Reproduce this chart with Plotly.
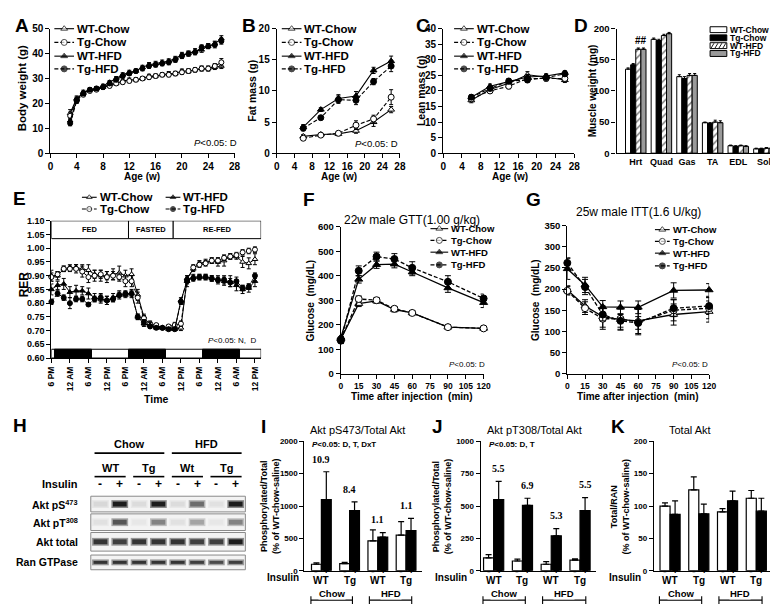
import plotly.graph_objects as go

W, H = 778, 604
SANS = "Liberation Sans, Arial, sans-serif"
SERIF = "Liberation Serif, Times New Roman, serif"

GROUPS = ["WT-Chow", "Tg-Chow", "WT-HFD", "Tg-HFD"]

# ---------------- A: body weight ----------------
bw_weeks = [3, 4, 5, 6, 7, 8, 9, 10, 11, 12, 13, 14, 15, 16, 17, 18, 19, 20, 21, 22, 23, 24, 25, 26]
bw_wt_chow = [16, 22, 24, 25.5, 26, 26.5, 27.5, 28, 29, 29.5, 29.5, 30, 31, 31, 31.5, 32, 32, 33, 33, 33.5, 34, 34, 34.5, 35]
bw_tg_chow = [15, 21.5, 23.5, 25, 25.5, 26.5, 27, 28, 28.5, 29, 29.5, 30, 30.5, 31, 31.5, 31.5, 32, 32.5, 33, 33.5, 34, 34, 35, 36.5]
bw_wt_hfd = [13, 21.5, 24.5, 25.5, 26, 27, 28.5, 30, 31.5, 32.5, 33, 34.5, 35.5, 36, 36.5, 37, 38, 39.5, 40, 41, 41.5, 43, 44, 46]
bw_tg_hfd = [12, 21, 24, 25.5, 26, 26.5, 28, 29.5, 31, 32, 33, 34, 35, 35.5, 36, 36.5, 37.5, 39, 40, 40.5, 42.5, 43, 43.5, 45]
bw_err_wt_chow = [1.5, 1.0, 0.8, 0.7, 0.7, 0.7, 0.7, 0.7, 0.7, 0.7, 0.7, 0.7, 0.7, 0.7, 0.7, 0.8, 0.8, 0.8, 0.8, 0.8, 0.9, 0.9, 0.9, 1.0]
bw_err_tg_chow = [1.5, 1.0, 0.8, 0.7, 0.7, 0.7, 0.7, 0.7, 0.7, 0.7, 0.8, 0.8, 0.8, 0.8, 0.8, 0.8, 0.9, 0.9, 0.9, 0.9, 1.0, 1.0, 1.0, 1.5]
bw_err_wt_hfd = [1.0, 1.0, 0.8, 0.7, 0.7, 0.7, 0.7, 0.8, 0.8, 0.8, 0.8, 0.8, 0.9, 0.9, 0.9, 0.9, 0.9, 1.0, 1.0, 1.0, 1.0, 1.0, 1.0, 1.2]
bw_err_tg_hfd = [1.0, 1.0, 0.8, 0.7, 0.7, 0.7, 0.7, 0.8, 0.8, 0.8, 0.8, 0.9, 0.9, 0.9, 0.9, 1.0, 1.0, 1.0, 1.0, 1.0, 1.0, 1.0, 1.2, 1.2]

# ---------------- B / C: fat and lean mass ----------------
nmr_weeks = [6, 10, 14, 18, 22, 26]
fm_wt_chow = [2.7, 3.0, 3.1, 3.6, 5.0, 7.0]
fm_tg_chow = [2.4, 2.9, 3.2, 4.5, 5.5, 9.0]
fm_wt_hfd = [4.2, 7.0, 8.8, 9.2, 13.3, 14.8]
fm_tg_hfd = [4.0, 5.7, 8.6, 8.5, 11.5, 14.0]
fm_err_wt_chow = [0.3, 0.2, 0.3, 0.4, 0.7, 0.5]
fm_err_tg_chow = [0.3, 0.2, 0.3, 0.7, 0.6, 1.2]
fm_err_wt_hfd = [0.4, 0.3, 0.6, 0.7, 0.5, 0.8]
fm_err_tg_hfd = [0.4, 0.3, 0.6, 0.7, 0.5, 0.9]

lm_wt_chow = [17.0, 20.5, 22.5, 25.2, 24.5, 23.5]
lm_tg_chow = [17.5, 20.0, 21.5, 24.0, 24.0, 24.0]
lm_wt_hfd = [18.0, 21.5, 23.0, 24.5, 24.8, 25.8]
lm_tg_hfd = [18.0, 20.8, 23.2, 23.5, 24.3, 25.5]
lm_err_wt_chow = [0.8, 0.8, 0.8, 1.0, 0.8, 0.8]
lm_err_tg_chow = [0.7, 0.8, 0.8, 0.9, 0.8, 0.9]
lm_err_wt_hfd = [0.7, 0.7, 0.8, 0.8, 0.7, 0.7]
lm_err_tg_hfd = [0.7, 0.7, 0.8, 0.8, 0.7, 0.8]

# ---------------- D: muscle weight ----------------
muscles = ["Hrt", "Quad", "Gas", "TA", "EDL", "Sol"]
mw_wt_chow = [135, 183, 123, 49, 12, 7]
mw_tg_chow = [142, 181, 120, 48, 11, 7]
mw_wt_hfd = [167, 189, 125, 50, 12, 8]
mw_tg_hfd = [167, 192, 125, 49, 11, 8]
mw_err_wt_chow = [2, 2, 3, 1, 1, 1]
mw_err_tg_chow = [2, 2, 3, 1, 1, 1]
mw_err_wt_hfd = [2, 2, 3, 3, 1, 1]
mw_err_tg_hfd = [2, 2, 3, 3, 1, 1]

# ---------------- E: RER ----------------
rer_hours = [0, 2, 4, 6, 8, 10, 12, 14, 16, 18, 20, 22, 24, 26, 28, 30, 32,
             34, 36, 38, 40, 42, 44, 46, 48, 50, 52, 54, 56, 58, 60, 62, 64, 66]
rer_wt_chow = [0.900, 0.900, 0.925, 0.930, 0.930, 0.925, 0.920, 0.905, 0.900, 0.900, 0.905, 0.910, 0.900, 0.905, 0.830, 0.750, 0.720,
               0.715, 0.710, 0.710, 0.710, 0.710, 0.890, 0.925, 0.945, 0.950, 0.955, 0.950, 0.955, 0.970, 0.970, 0.950, 0.945, 0.960]
rer_tg_chow = [0.895, 0.905, 0.925, 0.925, 0.925, 0.915, 0.895, 0.900, 0.905, 0.895, 0.900, 0.895, 0.880, 0.880, 0.820, 0.745, 0.725,
               0.720, 0.710, 0.715, 0.720, 0.725, 0.880, 0.930, 0.940, 0.945, 0.955, 0.955, 0.965, 0.970, 0.975, 0.985, 0.990, 0.995]
rer_wt_hfd = [0.850, 0.865, 0.870, 0.840, 0.845, 0.845, 0.835, 0.820, 0.815, 0.810, 0.820, 0.830, 0.830, 0.835, 0.750, 0.725, 0.720,
              0.710, 0.710, 0.705, 0.705, 0.810, 0.880, 0.895, 0.895, 0.895, 0.890, 0.885, 0.880, 0.880, 0.865, 0.850, 0.855, 0.880]
rer_tg_hfd = [0.805, 0.835, 0.820, 0.800, 0.815, 0.815, 0.795, 0.815, 0.820, 0.810, 0.815, 0.830, 0.835, 0.835, 0.750, 0.730, 0.715,
              0.710, 0.710, 0.705, 0.705, 0.805, 0.885, 0.890, 0.895, 0.895, 0.890, 0.885, 0.885, 0.875, 0.880, 0.855, 0.860, 0.900]
rer_err_wt_chow = [0.02, 0.015, 0.01, 0.01, 0.01, 0.015, 0.02, 0.015, 0.02, 0.015, 0.02, 0.025, 0.02, 0.02, 0.02, 0.01, 0.01,
                   0.01, 0.005, 0.005, 0.005, 0.01, 0.01, 0.01, 0.01, 0.01, 0.01, 0.015, 0.02, 0.01, 0.01, 0.02, 0.02, 0.02]
rer_err_tg_chow = [0.015, 0.01, 0.01, 0.01, 0.015, 0.02, 0.02, 0.02, 0.015, 0.02, 0.015, 0.015, 0.02, 0.02, 0.02, 0.01, 0.01,
                   0.005, 0.005, 0.005, 0.01, 0.01, 0.02, 0.01, 0.01, 0.01, 0.01, 0.01, 0.01, 0.01, 0.01, 0.01, 0.01, 0.01]
rer_err_wt_hfd = [0.02, 0.015, 0.02, 0.02, 0.02, 0.015, 0.02, 0.015, 0.015, 0.015, 0.015, 0.015, 0.01, 0.015, 0.01, 0.01, 0.01,
                  0.005, 0.005, 0.005, 0.005, 0.01, 0.01, 0.01, 0.01, 0.01, 0.01, 0.015, 0.015, 0.02, 0.02, 0.015, 0.015, 0.02]
rer_err_tg_hfd = [0.01, 0.01, 0.01, 0.02, 0.01, 0.01, 0.005, 0.01, 0.015, 0.015, 0.01, 0.01, 0.01, 0.01, 0.01, 0.01, 0.005,
                  0.005, 0.005, 0.005, 0.005, 0.01, 0.01, 0.01, 0.01, 0.01, 0.01, 0.01, 0.015, 0.015, 0.015, 0.01, 0.01, 0.01]
rer_tick_hours = [0, 6, 12, 18, 24, 30, 36, 42, 48, 54, 60, 66]
rer_tick_labels = ["6 PM", "12 AM", "6 AM", "12 PM", "6 PM", "12 AM", "6 AM", "12 PM", "6 PM", "12 AM", "6 AM", "12 PM"]
lights_off = [(1, 13), (25, 37), (49, 61)]
feeding_phases = [("FED", 0, 25), ("FASTED", 25, 39.5), ("RE-FED", 39.5, 68)]

# ---------------- F: GTT, G: ITT ----------------
tt_minutes = [0, 15, 30, 45, 60, 90, 120]
gtt_wt_chow = [142, 286, 297, 262, 248, 190, 185]
gtt_tg_chow = [140, 305, 300, 265, 248, 190, 185]
gtt_wt_hfd = [148, 385, 445, 447, 415, 350, 290]
gtt_tg_hfd = [135, 420, 478, 468, 432, 375, 307]
gtt_err_wt_chow = [10, 12, 10, 10, 8, 8, 8]
gtt_err_tg_chow = [10, 12, 10, 8, 8, 8, 8]
gtt_err_wt_hfd = [12, 15, 15, 15, 15, 18, 20]
gtt_err_tg_hfd = [12, 20, 18, 22, 25, 25, 18]

itt_wt_chow = [198, 160, 135, 128, 125, 140, 147]
itt_tg_chow = [196, 155, 130, 130, 122, 150, 155]
itt_wt_hfd = [248, 210, 158, 157, 157, 197, 198]
itt_tg_hfd = [262, 205, 140, 125, 120, 155, 160]
itt_err_wt_chow = [10, 15, 25, 25, 30, 25, 25]
itt_err_tg_chow = [10, 15, 25, 25, 30, 25, 25]
itt_err_wt_hfd = [25, 18, 15, 15, 15, 18, 15]
itt_err_tg_hfd = [12, 18, 15, 15, 15, 20, 20]

# ---------------- H: western blot band intensities (0-1) ----------------
blot_lanes_insulin = ["-", "+", "-", "+", "-", "+", "-", "+"]
blot_genotypes = ["WT", "Tg", "Wt", "Tg"]
blot_diets = ["Chow", "HFD"]
blot_pS473 = [0.12, 0.95, 0.10, 0.95, 0.10, 0.60, 0.08, 0.95]
blot_pT308 = [0.08, 0.70, 0.05, 0.50, 0.08, 0.35, 0.05, 0.50]
blot_total = [0.85, 0.80, 0.85, 0.85, 0.85, 0.80, 0.80, 0.95]
blot_ran = [0.85, 0.85, 0.85, 0.85, 0.85, 0.80, 0.75, 0.80]

# ---------------- I / J / K: quantification ----------------
quant_genotypes = ["WT", "Tg", "WT", "Tg"]
pS_saline = [100, 110, 460, 550]
pS_saline_err = [20, 20, 170, 210]
pS_insulin = [1100, 930, 520, 620]
pS_insulin_err = [430, 135, 70, 190]
pS_fold = ["10.9", "8.4", "1.1", "1.1"]
pT_saline = [100, 75, 50, 82]
pT_saline_err = [25, 15, 20, 10]
pT_insulin = [550, 505, 270, 465]
pT_insulin_err = [140, 55, 55, 100]
pT_fold = ["5.5", "6.9", "5.3", "5.5"]
tot_saline = [100, 125, 91, 112]
tot_saline_err = [5, 20, 5, 12]
tot_insulin = [87, 88, 108, 92]
tot_insulin_err = [21, 15, 15, 20]

# ======================================================================
fig = go.Figure()
ann, shp = [], []
L = dict(width=W, height=H, margin=dict(l=0, r=0, t=0, b=0), paper_bgcolor="white",
         plot_bgcolor="rgba(0,0,0,0)", showlegend=False, barmode="overlay",
         font=dict(family=SANS, color="black"))

STY = {
    "WT-Chow": dict(symbol="triangle-up", fill="white", dash="solid"),
    "Tg-Chow": dict(symbol="circle", fill="white", dash="4px,2px"),
    "WT-HFD": dict(symbol="triangle-up", fill="black", dash="solid"),
    "Tg-HFD": dict(symbol="circle", fill="black", dash="4px,2px"),
}


def T(x, y, s, size=10, bold=True, xa="center", ya="middle", angle=0, family=SANS, **kw):
    ann.append(dict(x=x / W, y=1 - y / H, xref="paper", yref="paper", text=s, showarrow=False,
                    xanchor=xa, yanchor=ya, textangle=angle,
                    font=dict(family=family, size=size, color="black", weight=700 if bold else 400), **kw))


def R(x0, y0, x1, y1, fill, line="black", lw=1):
    shp.append(dict(type="rect", xref="paper", yref="paper", x0=x0 / W, x1=x1 / W, y0=1 - y1 / H,
                    y1=1 - y0 / H, fillcolor=fill, line=dict(color=line, width=lw), layer="above"))


def LN(x0, y0, x1, y1, lw=1.2):
    shp.append(dict(type="line", xref="paper", yref="paper", x0=x0 / W, x1=x1 / W, y0=1 - y0 / H,
                    y1=1 - y1 / H, line=dict(color="black", width=lw), layer="above"))


def axes(n, xpx, ypx, xr, yr, xt=None, xtt=None, yt=None, ytt=None, xfs=10, yfs=10,
         xw=700, yw=700, xticks=True, xlabels=True, xangle=0):
    s = "" if n == 1 else str(n)
    base = dict(showline=True, linecolor="black", linewidth=1.3, ticks="outside", ticklen=4,
                tickwidth=1.2, tickcolor="black", showgrid=False, zeroline=False, fixedrange=True)
    xa = dict(base, domain=[xpx[0] / W, xpx[1] / W], anchor="y" + s, range=xr, tickangle=xangle,
              tickfont=dict(family=SANS, size=xfs, color="black", weight=xw))
    if xt is not None:
        xa.update(tickmode="array", tickvals=xt, ticktext=xtt if xtt else [str(v) for v in xt])
    if not xticks:
        xa["ticks"] = ""
    if not xlabels:
        xa["showticklabels"] = False
    ya = dict(base, domain=[1 - ypx[1] / H, 1 - ypx[0] / H], anchor="x" + s, range=yr,
              tickfont=dict(family=SANS, size=yfs, color="black", weight=yw))
    if yt is not None:
        ya.update(tickmode="array", tickvals=yt, ticktext=ytt if ytt else [str(v) for v in yt])
    L["xaxis" + s] = xa
    L["yaxis" + s] = ya
    return ("x" + s, "y" + s)


def series(x, y, err, name, xa, ya, ms=5, lw=1.1, cap=2):
    st = STY[name]
    fig.add_trace(go.Scatter(
        x=x, y=y, mode="lines+markers", xaxis=xa, yaxis=ya, name=name, cliponaxis=False,
        line=dict(color="black", width=lw, dash=st["dash"]),
        marker=dict(symbol=st["symbol"], size=ms, color=st["fill"], line=dict(color="black", width=1)),
        error_y=dict(type="data", array=err, visible=True, color="black", thickness=1, width=cap)))


def legend_rows(items, xs0, xs1, xt, fs, ms):
    for name, y in items:
        st = STY[name]
        fig.add_trace(go.Scatter(
            x=[xs0, (xs0 + xs1) / 2, xs1], y=[y, y, y], mode="lines+markers", xaxis="x11", yaxis="y11",
            cliponaxis=False, hoverinfo="skip",
            line=dict(color="black", width=1.1, dash=st["dash"]),
            marker=dict(symbol=st["symbol"], size=[0, ms, 0], color=st["fill"],
                        line=dict(color="black", width=[0, 1, 0]))))
        T(xt, y, name, size=fs, xa="left")


def ptext(x, y, s, size=9):
    T(x, y, "<i>P</i>&lt;0.05: " + s, size=size, bold=False, xa="right")


# overlay pixel axes (for legend keys)
L["xaxis11"] = dict(domain=[0, 1], range=[0, W], visible=False, fixedrange=True, anchor="y11")
L["yaxis11"] = dict(domain=[0, 1], range=[H, 0], visible=False, fixedrange=True, anchor="x11")

# ---------------- Panel A ----------------
xa, ya = axes(1, (38, 225), (15, 142), [0, 28], [0, 50], xt=[0, 4, 8, 12, 16, 20, 24, 28],
              yt=[0, 10, 20, 30, 40, 50])
for nm, yv, ev in zip(GROUPS, [bw_wt_chow, bw_tg_chow, bw_wt_hfd, bw_tg_hfd],
                      [bw_err_wt_chow, bw_err_tg_chow, bw_err_wt_hfd, bw_err_tg_hfd]):
    series(bw_weeks, yv, ev, nm, xa, ya, ms=5)
T(9, 12, "A", size=19)
T(10, 76, "Body weight (g)", size=11.5, angle=-90)
T(131, 166, "Age (w)", size=10)
ptext(230, 131, "D", size=9.5)
legend_rows(list(zip(GROUPS, [15, 29, 43, 56])), 42, 62, 63, 11.5, 6)

# ---------------- Panel B ----------------
xa, ya = axes(2, (268, 393), (15, 142), [0, 28], [0, 20], xt=[0, 4, 8, 12, 16, 20, 24, 28],
              yt=[0, 5, 10, 15, 20])
for nm, yv, ev in zip(GROUPS, [fm_wt_chow, fm_tg_chow, fm_wt_hfd, fm_tg_hfd],
                      [fm_err_wt_chow, fm_err_tg_chow, fm_err_wt_hfd, fm_err_tg_hfd]):
    series(nmr_weeks, yv, ev, nm, xa, ya, ms=6)
T(240, 12, "B", size=19)
T(243, 78, "Fat mass (g)", size=10.5, angle=-90)
T(331, 166, "Age (w)", size=10)
ptext(393, 132, "D", size=9.5)
legend_rows(list(zip(GROUPS, [15, 29, 43, 56])), 273, 293, 294, 11.5, 6)

# ---------------- Panel C ----------------
xa, ya = axes(3, (437, 570), (15, 142), [0, 28], [0, 40], xt=[0, 4, 8, 12, 16, 20, 24, 28],
              yt=[0, 5, 10, 15, 20, 25, 30, 35, 40])
for nm, yv, ev in zip(GROUPS, [lm_wt_chow, lm_tg_chow, lm_wt_hfd, lm_tg_hfd],
                      [lm_err_wt_chow, lm_err_tg_chow, lm_err_wt_hfd, lm_err_tg_hfd]):
    series(nmr_weeks, yv, ev, nm, xa, ya, ms=6)
T(416, 12, "C", size=19)
T(415, 78, "Lean mass (g)", size=10.5, angle=-90)
T(505, 166, "Age (w)", size=10)
legend_rows(list(zip(GROUPS, [15, 29, 43, 56])), 448, 468, 469, 11.5, 6)

# ---------------- Panel D ----------------
xa, ya = axes(4, (613, 777), (15, 142), [-0.75, 5.55], [0, 200], xt=[0, 1, 2, 3, 4, 5], xtt=muscles,
              yt=[0, 50, 100, 150, 200], xticks=False, xfs=9, yfs=9.5)
bar_styles = [
    dict(color="white", line=dict(color="black", width=1)),
    dict(color="black", line=dict(color="black", width=1)),
    dict(color="white", line=dict(color="black", width=1),
         pattern=dict(shape="/", fgcolor="black", bgcolor="white", size=5, solidity=0.3)),
    dict(color="#9a9a9a", line=dict(color="black", width=1)),
]
for i, (nm, yv, ev) in enumerate(zip(GROUPS, [mw_wt_chow, mw_tg_chow, mw_wt_hfd, mw_tg_hfd],
                                     [mw_err_wt_chow, mw_err_tg_chow, mw_err_wt_hfd, mw_err_tg_hfd])):
    fig.add_trace(go.Bar(x=list(range(len(muscles))), y=yv, width=0.2, offset=-0.4 + 0.2 * i,
                         marker=bar_styles[i], xaxis=xa, yaxis=ya, name=nm,
                         error_y=dict(type="data", array=ev, arrayminus=[0] * len(ev), symmetric=False,
                                      color="black", thickness=1, width=1.5)))
ann.append(dict(x=0.2, y=max(mw_wt_hfd[0], mw_tg_hfd[0]) + 2, xref=xa, yref=ya, text="##", showarrow=False,
                yanchor="bottom", font=dict(family=SANS, size=10, color="black", weight=700)))
T(577, 12, "D", size=19)
T(589, 78, "Muscle weight (mg)", size=10, angle=-90)
for i, (nm, y) in enumerate(zip(GROUPS, [16, 24.3, 32.3, 40.3])):
    st = bar_styles[i]
    shp.append(dict(type="rect", xref="paper", yref="paper", x0=708 / W, x1=725 / W, y0=1 - (y + 3) / H,
                    y1=1 - (y - 3) / H, fillcolor=st["color"], line=dict(color="black", width=1),
                    layer="above"))
    if i == 2:
        for k in range(4):
            LN(709 + 4 * k, y + 2.5, 712 + 4 * k, y - 2.5, lw=0.9)
    T(726, y, nm, size=8.5, xa="left")

# ---------------- Panel E ----------------
xa, ya = axes(5, (39, 252), (211, 351), [0, 68], [0.60, 1.10], xt=rer_tick_hours, xtt=rer_tick_labels,
              yt=[0.60, 0.65, 0.70, 0.75, 0.80, 0.85, 0.90, 0.95, 1.00, 1.05, 1.10],
              ytt=["0.60", "0.65", "0.70", "0.75", "0.80", "0.85", "0.90", "0.95", "1.00", "1.05", "1.10"],
              xfs=8.5, yfs=9, xangle=-90)
for nm, yv, ev in zip(GROUPS, [rer_wt_chow, rer_tg_chow, rer_wt_hfd, rer_tg_hfd],
                      [rer_err_wt_chow, rer_err_tg_chow, rer_err_wt_hfd, rer_err_tg_hfd]):
    series(rer_hours, yv, ev, nm, xa, ya, ms=5, lw=1)
shp.append(dict(type="rect", xref=xa, yref=ya, x0=0, x1=68, y0=0.60, y1=0.632, fillcolor="white",
                line=dict(color="black", width=1), layer="above"))
for a, b in lights_off:
    shp.append(dict(type="rect", xref=xa, yref=ya, x0=a, x1=b, y0=0.60, y1=0.632, fillcolor="black",
                    line=dict(color="black", width=1), layer="above"))
for lab, a, b in feeding_phases:
    shp.append(dict(type="rect", xref=xa, yref=ya, x0=a, x1=b, y0=1.035, y1=1.10, fillcolor="white",
                    line=dict(color="black", width=1), layer="above"))
    ann.append(dict(x=(a + b) / 2, y=1.0675, xref=xa, yref=ya, text=lab, showarrow=False,
                    font=dict(family=SANS, size=7.5, color="black", weight=700)))
T(7, 188, "E", size=19)
T(11, 276, "RER", size=12, angle=-90)
T(145, 393, "Time", size=10.5)
ptext(249, 333, "N,  D", size=8)
legend_rows([("WT-Chow", 187), ("Tg-Chow", 199)], 70, 85, 86, 11.5, 5)
legend_rows([("WT-HFD", 187), ("Tg-HFD", 199)], 155, 170, 171, 11.5, 5)

# ---------------- Panel F ----------------
xa, ya = axes(6, (333, 478), (217, 367), [0, 120], [0, 600], xt=[0, 15, 30, 45, 60, 75, 90, 105, 120],
              yt=[0, 100, 200, 300, 400, 500, 600], xfs=8.5, yfs=9.5)
for nm, yv, ev in zip(GROUPS, [gtt_wt_chow, gtt_tg_chow, gtt_wt_hfd, gtt_tg_hfd],
                      [gtt_err_wt_chow, gtt_err_tg_chow, gtt_err_wt_hfd, gtt_err_tg_hfd]):
    series(tt_minutes, yv, ev, nm, xa, ya, ms=7, lw=1.3, cap=3)
T(301, 189, "F", size=19)
T(405, 210, "22w male GTT(1.00 g/kg)", size=12, bold=False)
T(302, 292, "Glucose  (mg/dL)", size=10, angle=-90)
T(405, 390, "Time after injection  (min)", size=10)
ptext(481, 358, "D", size=8)
legend_rows(list(zip(GROUPS, [219, 231, 243, 256])), 424, 442, 443, 9.5, 6)

# ---------------- Panel G ----------------
xa, ya = axes(7, (563, 707), (216, 367), [0, 120], [0, 350], xt=[0, 15, 30, 45, 60, 75, 90, 105, 120],
              yt=[0, 50, 100, 150, 200, 250, 300, 350], xfs=8.5, yfs=9.5)
for nm, yv, ev in zip(GROUPS, [itt_wt_chow, itt_tg_chow, itt_wt_hfd, itt_tg_hfd],
                      [itt_err_wt_chow, itt_err_tg_chow, itt_err_wt_hfd, itt_err_tg_hfd]):
    series(tt_minutes, yv, ev, nm, xa, ya, ms=7, lw=1.3, cap=3)
T(529, 189, "G", size=19)
T(635, 202, "25w male ITT(1.6 U/kg)", size=12, bold=False)
T(530, 292, "Glucose  (mg/dL)", size=10, angle=-90)
T(635, 390, "Time after injection  (min)", size=10)
ptext(708, 358, "D", size=8)
legend_rows(list(zip(GROUPS, [220, 232, 244, 257])), 652, 667, 668, 9.5, 6)

# ---------------- Panel H: blot ----------------
T(7, 420, "H", size=19)
lane_x0, lane_w = 79, (236 - 79) / 8
lane_c = [lane_x0 + lane_w * (i + 0.5) for i in range(8)]
for k, d in enumerate(blot_diets):
    T((lane_c[4 * k] + lane_c[4 * k + 3]) / 2, 439, d, size=11)
    LN(lane_c[4 * k] - 6, 448, lane_c[4 * k + 3] + 6, 448, lw=1.6)
for k, g in enumerate(blot_genotypes):
    T((lane_c[2 * k] + lane_c[2 * k + 1]) / 2, 463, g, size=11)
    LN(lane_c[2 * k] - 6, 472, lane_c[2 * k + 1] + 6, 472, lw=1.6)
T(68, 480, "Insulin", size=11, xa="right")
for i, s in enumerate(blot_lanes_insulin):
    T(lane_c[i], 480, s, size=12)
blot_rows = [("Akt pS<sup>473</sup>", 492, 508, blot_pS473, 5),
             ("Akt pT<sup>308</sup>", 510, 527, blot_pT308, 5),
             ("Akt total", 529, 548, blot_total, 5),
             ("Ran GTPase", 552, 567, blot_ran, 3)]
for lab, y0, y1, vals, bh in blot_rows:
    R(79, y0, 236, y1, "#f3f3f3", line="#8a8a8a", lw=1)
    ym = (y0 + y1) / 2
    for c, v in zip(lane_c, vals):
        g1 = int(243 - 110 * v)
        g2 = int(243 - 225 * v)
        R(c - 8.5, ym - bh / 2 - 1.5, c + 8.5, ym + bh / 2 + 1.5, "rgb(%d,%d,%d)" % (g1, g1, g1), line="rgba(0,0,0,0)", lw=0)
        R(c - 7, ym - bh / 2, c + 7, ym + bh / 2, "rgb(%d,%d,%d)" % (g2, g2, g2), line="rgba(0,0,0,0)", lw=0)
    T(68, ym, lab, size=10.5, xa="right")


# ---------------- Panels I / J / K ----------------
def quant_panel(n, xpx, xr, ymax, yt, sal, sal_err, ins, ins_err, fold, fold_dx, letter, letter_x,
                title, title_x, ylab, ylab_x, ins_x, ptxt=None):
    xa, ya = axes(n, xpx, (436, 568), xr, [0, ymax], yt=yt, xticks=False, xlabels=False, yfs=8)
    pos = [0, 1, 2, 3]
    fig.add_trace(go.Bar(x=pos, y=sal, width=0.35, offset=-0.35, xaxis=xa, yaxis=ya,
                         marker=dict(color="white", line=dict(color="black", width=1.2)),
                         error_y=dict(type="data", array=sal_err, arrayminus=[0] * 4, symmetric=False,
                                      color="black", thickness=1.2, width=3)))
    fig.add_trace(go.Bar(x=pos, y=ins, width=0.35, offset=0, xaxis=xa, yaxis=ya,
                         marker=dict(color="black", line=dict(color="black", width=1.2)),
                         error_y=dict(type="data", array=ins_err, arrayminus=[0] * 4, symmetric=False,
                                      color="black", thickness=1.2, width=3)))
    if fold:
        for p, v, e, f in zip(pos, ins, ins_err, fold):
            ann.append(dict(x=p + fold_dx, y=v + e + 0.04 * ymax, xref=xa, yref=ya, text=f, showarrow=False,
                            yanchor="bottom", font=dict(family=SERIF, size=10, color="black", weight=700)))
    for p in pos:
        for dx, s in ((-0.175, "-"), (0.175, "+")):
            ann.append(dict(x=p + dx, y=1 - 575 / H, xref=xa, yref="paper", text=s, showarrow=False,
                            font=dict(family=SANS, size=11, color="black", weight=700)))
        ann.append(dict(x=p, y=1 - 586 / H, xref=xa, yref="paper", text=quant_genotypes[p], showarrow=False,
                        font=dict(family=SANS, size=10, color="black", weight=700)))
    for lab, a, b in (("Chow", -0.37, 1.1), ("HFD", 1.7, 3.2)):
        shp.append(dict(type="line", xref=xa, yref="paper", x0=a, x1=b, y0=1 - 598 / H, y1=1 - 598 / H,
                        line=dict(color="black", width=1.1)))
        for e in (a, b):
            shp.append(dict(type="line", xref=xa, yref="paper", x0=e, x1=e, y0=1 - 594 / H, y1=1 - 602 / H,
                            line=dict(color="black", width=1.1)))
        ann.append(dict(x=(a + b) / 2, y=1 - 598 / H, xref=xa, yref="paper", text=lab, showarrow=False,
                        bgcolor="white", borderpad=0,
                        font=dict(family=SANS, size=9.5, color="black", weight=700)))
    T(ins_x, 575, "Insulin", size=10, xa="right")
    T(letter_x, 421, letter, size=19)
    T(title_x, 424, title, size=11, bold=False)
    T(ylab_x, 502, ylab, size=9, angle=-90)
    if ptxt:
        T(xpx[0] + 6, 439, "<i>P</i>&lt;0.05: " + ptxt, size=8, xa="left")


quant_panel(8, (296, 415), [-0.6, 3.55], 2000, [0, 500, 1000, 1500, 2000], pS_saline, pS_saline_err,
            pS_insulin, pS_insulin_err, pS_fold, 0.0, "I", 254, "Akt pS473/Total Akt", 350,
            "Phosphorylated/Total<br>(% of WT-chow-saline)", 261, 293, "D, T, DxT")
quant_panel(9, (475, 592), [-0.45, 3.55], 1000, [0, 250, 500, 750, 1000], pT_saline, pT_saline_err,
            pT_insulin, pT_insulin_err, pT_fold, 0.175, "J", 431, "Akt pT308/Total Akt", 530,
            "Phosphorylated/Total<br>(% of WT-chow-saline)", 436, 463, "D, T")
quant_panel(10, (651, 771), [-0.56, 3.55], 200, [0, 50, 100, 150, 200], tot_saline, tot_saline_err,
            tot_insulin, tot_insulin_err, None, 0, "K", 614, "Total Akt", 688,
            "Total/RAN<br>(% of WT-chow-saline)", 617, 640)

L["annotations"] = ann
L["shapes"] = shp
fig.update_layout(**L)
fig.write_html("out.html")
